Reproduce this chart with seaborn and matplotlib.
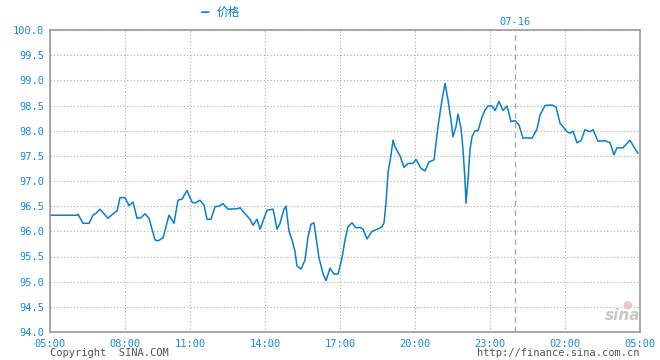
import matplotlib
matplotlib.use("Agg")
import matplotlib.pyplot as plt
import numpy as np
import pandas as pd
import seaborn as sns

# hours from 05:00 on the chart's (compressed) time axis
hours = [0, 1.08, 1.12, 1.32, 1.56, 1.72, 1.84, 2.0, 2.32, 2.6, 2.68, 2.8, 3.0, 3.16, 3.32,
         3.48, 3.64, 3.8, 3.96, 4.2, 4.32, 4.52, 4.76, 4.96, 5.12, 5.28, 5.48, 5.68, 5.8,
         6.0, 6.16, 6.28, 6.44, 6.6, 6.76, 6.92, 7.12, 7.52, 7.6, 7.8, 8.0, 8.12, 8.28,
         8.4, 8.68, 8.92, 8.96, 9.08, 9.2, 9.36, 9.44, 9.56, 9.68, 9.8, 9.88, 10.04, 10.2,
         10.32, 10.44, 10.56, 10.76, 10.92, 11.04, 11.2, 11.36, 11.52, 11.68, 11.8, 11.92,
         12.08, 12.24, 12.4, 12.52, 12.68, 12.88, 13.08, 13.28, 13.36, 13.44, 13.52, 13.64,
         13.72, 13.8, 14.0, 14.16, 14.32, 14.52, 14.64, 14.84, 15.0, 15.16, 15.36, 15.52,
         15.68, 15.8, 15.92, 16.04, 16.12, 16.24, 16.32, 16.44, 16.52, 16.6, 16.64, 16.72,
         16.8, 16.88, 17.0, 17.12, 17.28, 17.4, 17.52, 17.68, 17.8, 17.96, 18.12, 18.28,
         18.44, 18.6, 18.76, 18.92, 19.08, 19.28, 19.48, 19.6, 19.8, 20.08, 20.24, 20.4,
         20.68, 20.8, 20.92, 21.08, 21.24, 21.4, 21.6, 21.72, 21.92, 22.2, 22.4, 22.56,
         22.68, 22.92, 23.2, 23.4, 23.52]
price = [96.32, 96.32, 96.34, 96.16, 96.16, 96.32, 96.36, 96.44, 96.26, 96.38, 96.40, 96.67,
         96.67, 96.51, 96.58, 96.26, 96.27, 96.35, 96.26, 95.83, 95.81, 95.87, 96.32, 96.16,
         96.62, 96.64, 96.81, 96.58, 96.56, 96.62, 96.52, 96.24, 96.24, 96.49, 96.50, 96.55,
         96.44, 96.45, 96.47, 96.35, 96.24, 96.12, 96.24, 96.04, 96.42, 96.44, 96.36, 96.04,
         96.16, 96.44, 96.50, 96.00, 95.83, 95.60, 95.31, 95.25, 95.43, 95.89, 96.14, 96.17,
         95.47, 95.16, 95.02, 95.27, 95.15, 95.15, 95.47, 95.83, 96.09, 96.17, 96.07, 96.08,
         96.04, 95.85, 96.00, 96.04, 96.09, 96.17, 96.56, 97.16, 97.52, 97.81, 97.68, 97.50,
         97.27, 97.35, 97.35, 97.43, 97.25, 97.20, 97.38, 97.42, 98.08, 98.61, 98.94, 98.61,
         98.21, 97.88, 98.08, 98.33, 98.05, 97.62, 97.02, 96.56, 97.02, 97.62, 97.88, 98.00,
         98.00, 98.27, 98.41, 98.49, 98.49, 98.40, 98.58, 98.40, 98.49, 98.18, 98.20, 98.11,
         97.85, 97.86, 97.85, 98.03, 98.31, 98.50, 98.51, 98.47, 98.15, 97.98, 97.95, 97.99,
         97.76, 97.80, 98.02, 97.98, 98.02, 97.79, 97.80, 97.76, 97.52, 97.66, 97.66, 97.81,
         97.64, 97.55]

tick_pos = [0, 3, 5.6, 8.6, 11.6, 14.6, 17.6, 20.6, 23.6]
tick_labels = ["05:00", "08:00", "11:00", "14:00", "17:00", "20:00", "23:00", "02:00", "05:00"]
y_ticks = np.arange(94.0, 100.01, 0.5)
day_pos = 18.6
day_label = "07-16"

blue = "#0a7ed0"
label_blue = "#1a8ae0"
grid_gray = "#aaaaaa"

sns.set_style("white")
plt.rcParams['font.family'] = ['DejaVu Sans Mono', 'Noto Sans CJK SC']

df = pd.DataFrame({"t": hours, "price": price})

fig = plt.figure(figsize=(6.6, 3.6), dpi=100)
ax = fig.add_axes([50 / 660, 28 / 360, 590 / 660, 302 / 360])

sns.lineplot(data=df, x="t", y="price", color=blue, linewidth=1.1, ax=ax)

ax.set_xlim(0, 23.6)
ax.set_ylim(94.0, 100.0)
ax.set_xticks(tick_pos)
ax.set_xticklabels(tick_labels)
ax.set_yticks(y_ticks)
ax.set_yticklabels(["%.1f" % v for v in y_ticks])
ax.tick_params(axis="both", length=0, labelsize=7.5, labelcolor=label_blue)
ax.tick_params(axis="x", pad=5)
ax.tick_params(axis="y", pad=4)
ax.set_xlabel("")
ax.set_ylabel("")

ax.grid(True, color=grid_gray, linestyle=(0, (1, 2)), linewidth=0.8)
ax.axvline(day_pos, color="#aaaaaa", linestyle=(0, (4, 3)), linewidth=1)
for s in ax.spines.values():
    s.set_color("#999999")
    s.set_linewidth(1.2)

# header: legend + day marker
fig.text(201 / 660, 1 - 12 / 360, "\u2014", color=blue, fontsize=10, fontweight="bold",
         ha="left", va="center")
fig.text(217 / 660, 1 - 12 / 360, "价格", color=blue, fontsize=8.5, ha="left", va="center")
fig.text(515 / 660, 1 - 22 / 360, day_label, color=label_blue, fontsize=7.5, ha="center",
         va="center")

# footer
fig.text(50 / 660, 1 - 353 / 360, "Copyright  SINA.COM", color="#555555", fontsize=7.5,
         ha="left", va="center")
fig.text(640 / 660, 1 - 353 / 360, "http://finance.sina.com.cn", color="#555555", fontsize=7.5,
         ha="right", va="center")
fig.text(623 / 660, 1 - 316 / 360, "sina", color="#c8c8c8", fontsize=11, fontweight="bold",
         style="italic", ha="center", va="center", family="DejaVu Sans")
fig.text(627 / 660, 1 - 305 / 360, "\u25cf", color="#f2c4c4", fontsize=8,
         ha="center", va="center", family="DejaVu Sans")

fig.savefig("out.png", dpi=100)
